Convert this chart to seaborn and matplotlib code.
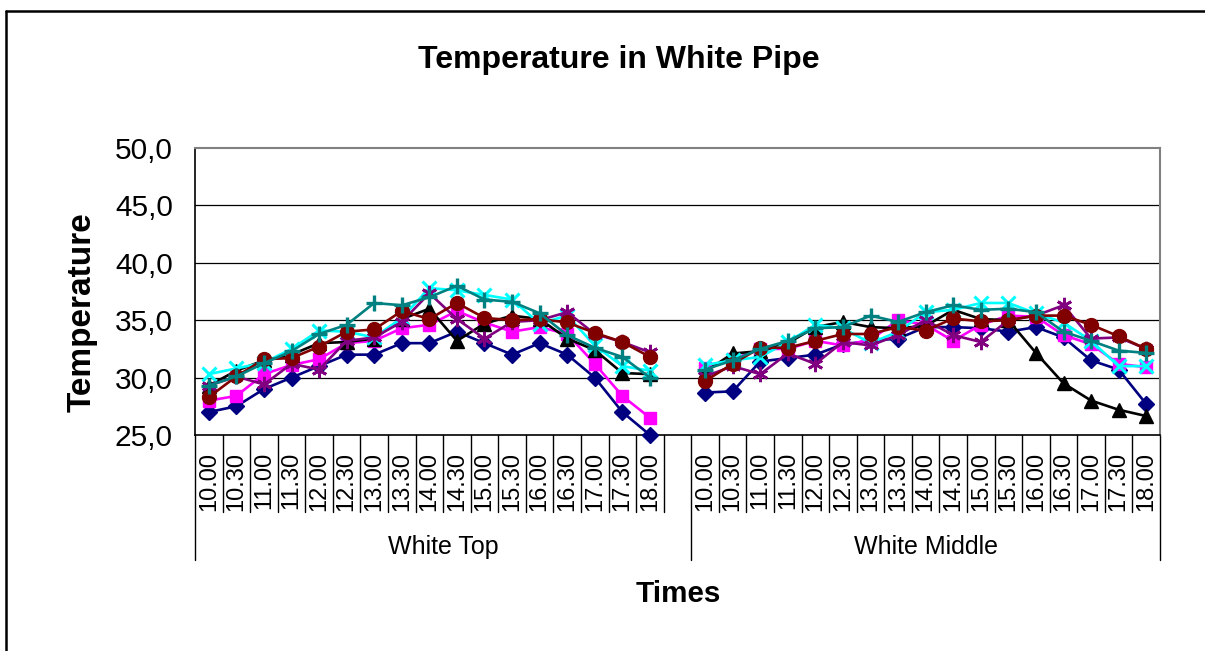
import numpy as np
import pandas as pd
import matplotlib
matplotlib.use("Agg")
import matplotlib.pyplot as plt
from matplotlib.lines import Line2D
import seaborn as sns

# ---- data -------------------------------------------------------------
times = ["10.00", "10.30", "11.00", "11.30", "12.00", "12.30", "13.00", "13.30",
         "14.00", "14.30", "15.00", "15.30", "16.00", "16.30", "17.00", "17.30", "18.00"]
groups = ["White Top", "White Middle"]

top_s1 = [27.0, 27.5, 29.0, 30.0, 31.0, 32.0, 32.0, 33.0, 33.0, 34.0, 33.0, 32.0, 33.0, 32.0, 30.0, 27.0, 25.0]
top_s2 = [28.0, 28.4, 30.3, 31.1, 31.6, 33.0, 33.2, 34.3, 34.6, 35.8, 34.8, 34.0, 34.4, 33.8, 31.2, 28.4, 26.5]
top_s3 = [29.3, 30.6, 31.5, 32.0, 33.0, 33.1, 33.4, 35.1, 36.0, 33.2, 34.7, 35.4, 35.1, 33.4, 32.4, 30.4, 30.3]
top_s4 = [30.3, 30.8, 31.3, 32.5, 34.1, 34.0, 33.5, 35.2, 37.8, 37.6, 37.2, 36.8, 34.7, 35.4, 32.8, 31.0, 30.6]
top_s5 = [29.3, 30.1, 29.4, 31.2, 30.7, 33.2, 33.5, 34.85, 37.35, 35.1, 33.4, 34.85, 35.0, 35.7, 33.8, 33.1, 32.2]
top_s6 = [28.3, 30.1, 31.6, 31.7, 32.7, 34.0, 34.2, 35.8, 35.1, 36.5, 35.2, 35.0, 35.1, 34.8, 33.9, 33.1, 31.8]
top_s7 = [29.3, 30.1, 31.25, 32.3, 33.8, 34.6, 36.5, 36.3, 37.0, 38.0, 36.8, 36.6, 35.6, 33.7, 32.6, 31.8, 30.0]

mid_s1 = [28.7, 28.8, 31.4, 31.7, 32.0, 32.9, 33.2, 33.4, 34.4, 34.4, 34.3, 34.0, 34.4, 33.5, 31.5, 30.7, 27.7]
mid_s2 = [30.8, 31.6, 32.5, 32.5, 33.2, 32.8, 33.3, 35.0, 34.6, 33.2, 34.6, 35.4, 35.3, 33.7, 32.9, 31.2, 30.9]
mid_s3 = [30.5, 32.1, 32.3, 33.0, 34.4, 34.85, 34.4, 34.3, 34.5, 35.9, 35.1, 35.0, 32.15, 29.5, 28.0, 27.2, 26.65]
mid_s4 = [31.1, 31.5, 31.8, 33.1, 34.6, 34.3, 33.0, 34.0, 35.7, 35.9, 36.5, 36.5, 35.6, 34.8, 33.2, 31.0, 31.0]
mid_s5 = [30.1, 31.0, 30.3, 32.1, 31.2, 33.1, 32.8, 33.7, 35.0, 33.7, 33.1, 35.0, 35.4, 36.3, 33.4, 33.5, 32.5]
mid_s6 = [29.7, 31.2, 32.6, 32.6, 33.2, 33.8, 33.8, 34.4, 34.1, 35.15, 34.9, 35.0, 35.4, 35.4, 34.6, 33.6, 32.5]
mid_s7 = [30.7, 31.5, 32.5, 33.2, 34.3, 34.4, 35.4, 34.85, 35.7, 36.3, 35.9, 36.0, 35.7, 34.0, 33.2, 32.35, 32.15]

series_names = ["S1", "S2", "S3", "S4", "S5", "S6", "S7"]
top_values = [top_s1, top_s2, top_s3, top_s4, top_s5, top_s6, top_s7]
mid_values = [mid_s1, mid_s2, mid_s3, mid_s4, mid_s5, mid_s6, mid_s7]

# ---- styles -----------------------------------------------------------
colors = ["#000080", "#FF00FF", "#000000", "#00FFFF", "#800080", "#800000", "#008080"]
markers = ["D", "s", "^", "x", (6, 2, 0), "o", "+"]
msizes = [8, 8.5, 9.5, 10, 11, 10, 12]
mews = [1, 1, 1, 2.2, 2.0, 1, 2.4]

sns.set_style("white")
plt.rcParams["font.family"] = ["Liberation Sans", "DejaVu Sans"]
plt.rcParams["text.color"] = "black"
plt.rcParams["ytick.color"] = "black"
plt.rcParams["ytick.labelcolor"] = "black"

W, H = 1205, 651
fig = plt.figure(figsize=(W / 100, H / 100), dpi=100)
L, R, T, B = 195, 1160, 148, 435
ax = fig.add_axes([L / W, 1 - B / H, (R - L) / W, (B - T) / H])

n = len(times)
# category slots: group 1 takes n + 1 slots (one empty), group 2 takes n
slot_top = np.arange(n)
slot_mid = np.arange(n) + n + 1
total = 2 * n + 1

rows = []
for g, pos, vals in [(groups[0], slot_top, top_values), (groups[1], slot_mid, mid_values)]:
    for name, v in zip(series_names, vals):
        for p, t, y in zip(pos, times, v):
            rows.append({"pos": p, "time": t, "group": g, "series": name, "value": y})
df = pd.DataFrame(rows)

for k, name in enumerate(series_names):
    for g in groups:
        sub = df[(df.series == name) & (df.group == g)]
        sns.lineplot(data=sub, x="pos", y="value", ax=ax, color=colors[k],
                     marker=markers[k], markersize=msizes[k],
                     markeredgewidth=mews[k], markeredgecolor=colors[k],
                     markerfacecolor=colors[k], linewidth=1.9,
                     estimator=None, sort=False, legend=False, zorder=3 + k,
                     clip_on=False)

# ---- axes -------------------------------------------------------------
ax.set_xlim(-0.5, total - 0.5)
ax.set_ylim(25, 50)
yt = np.arange(25, 51, 5)
ax.set_yticks(yt)
ax.set_yticklabels([f"{v:.1f}".replace(".", ",") for v in yt], fontsize=21.5)
ax.tick_params(axis="y", direction="out", length=8, width=1, pad=8, colors="black")
ax.set_xticks([])
for v in yt[1:-1]:
    ax.axhline(v, color="black", linewidth=0.9, zorder=1)
ax.set_xlabel("")
ax.set_ylabel("")
for side in ["top", "right"]:
    ax.spines[side].set_color("#808080")
    ax.spines[side].set_linewidth(1.5)
for side in ["left", "bottom"]:
    ax.spines[side].set_color("black")
    ax.spines[side].set_linewidth(1.2)

# category separators and labels below the axis
trans = ax.get_xaxis_transform()
def yax(px):
    return (B - px) / (B - T)

for k in range(total + 1):
    x = k - 0.5
    is_group_edge = k in (0, n + 1, total)
    y_end = 560 if is_group_edge else 512
    ax.add_line(Line2D([x, x], [0, yax(y_end)], transform=trans, color="black",
                       linewidth=1, clip_on=False))
for pos_arr in (slot_top, slot_mid):
    for p, t in zip(pos_arr, times):
        ax.text(p, yax(452), t, transform=trans, rotation=90, ha="center", va="top",
                fontsize=17, clip_on=False)
ax.text((slot_top[0] - 0.5 + n + 0.5) / 2, yax(547), groups[0], transform=trans,
        ha="center", va="center", fontsize=18)
ax.text((slot_mid[0] - 0.5 + total - 0.5) / 2, yax(547), groups[1], transform=trans,
        ha="center", va="center", fontsize=18)

# titles
fig.text(619 / W, 1 - 60 / H, "Temperature in White Pipe", ha="center", va="center",
         fontsize=23, fontweight="bold")
fig.text(678 / W, 1 - 594 / H, "Times", ha="center", va="center",
         fontsize=21.3, fontweight="bold")
fig.text(82 / W, 1 - 312 / H, "Temperature", ha="center", va="center",
         rotation=90, fontsize=24, fontweight="bold")

# chart frame
fig.add_artist(Line2D([6 / W, 6 / W], [0, 1 - 11 / H], color="black", linewidth=1.8))
fig.add_artist(Line2D([6 / W, 1], [1 - 11 / H, 1 - 11 / H], color="black", linewidth=1.8))

fig.savefig("out.png", dpi=100)
